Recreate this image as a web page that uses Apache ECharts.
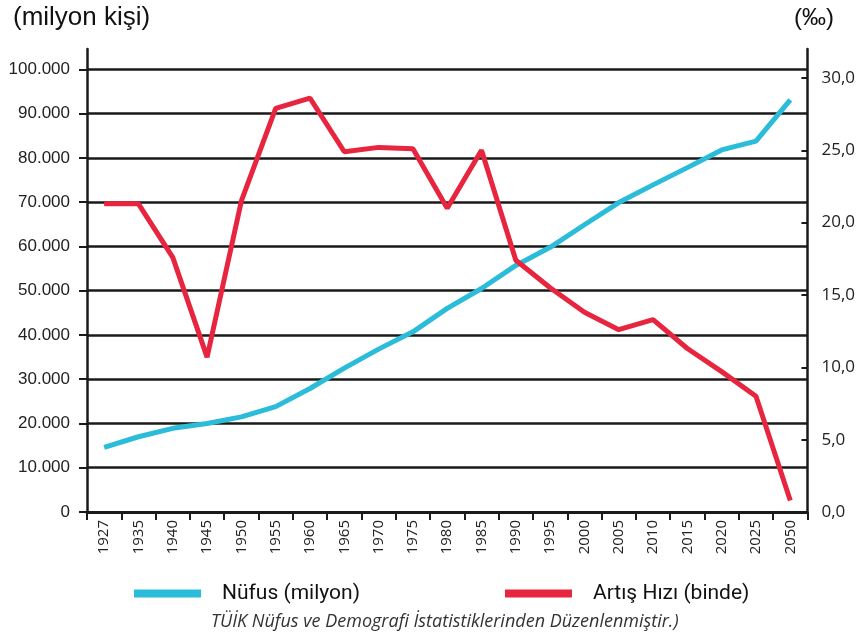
<!DOCTYPE html>
<html>
<head>
<meta charset="utf-8">
<script src="https://cdn.jsdelivr.net/npm/echarts@6/dist/echarts.min.js"></script>
<style>
html,body{margin:0;padding:0;background:#fff;}
#c{width:858px;height:641px;}
</style>
</head>
<body>
<div id="c"></div>
<script>
const years = ['1927','1935','1940','1945','1950','1955','1960','1965','1970','1975','1980','1985','1990','1995','2000','2005','2010','2015','2020','2025','2050'];
const nufus = [14600,17000,18900,20000,21500,23800,27900,32500,36800,40700,46000,50500,55700,59800,64900,69900,73900,77800,81800,83800,93100];
const artisHizi = [21.3,21.3,17.6,10.7,21.5,27.9,28.6,24.9,25.2,25.1,21.0,25.0,17.4,15.5,13.8,12.6,13.3,11.3,9.7,8.0,0.8];
const leftTitle = '(milyon kişi)';
const rightTitle = '(‰)';
const sourceText = 'TÜİK Nüfus ve Demografi İstatistiklerinden Düzenlenmiştir.)';

const chart = echarts.init(document.getElementById('c'), null, {renderer:'canvas'});
const axisColor = '#1a1a1a';
chart.setOption({
  animation:false,
  backgroundColor:'#fff',
  title:[
    {text:leftTitle, left:13, top:5, padding:0, textStyle:{fontFamily:'Liberation Sans, Arial', fontSize:26, fontWeight:'normal', color:'#111'}},
    {text:rightTitle, right:24, top:6, padding:0, textStyle:{fontFamily:'Liberation Sans, Arial', fontSize:24, fontWeight:'normal', color:'#111'}},
    {text:sourceText, left:211, top:613, padding:0, textStyle:{fontFamily:'Open Sans', fontSize:18, fontStyle:'italic', fontWeight:'normal', color:'#333'}}
  ],
  legend:{
    left:129, top:578,
    itemWidth:67, itemHeight:8, itemGap:145, icon:'rect',
    textStyle:{fontFamily:'Roboto', fontSize:21, color:'#111', padding:[0,0,0,16]},
    data:['Nüfus (milyon)','Artış Hızı (binde)']
  },
  grid:{left:87, right:50, top:49, bottom:129, containLabel:false},
  xAxis:{
    type:'category', data:years, boundaryGap:true,
    axisLine:{lineStyle:{color:axisColor, width:3}},
    axisTick:{show:true, interval:0, length:8, lineStyle:{color:axisColor, width:2}},
    axisLabel:{interval:0, rotate:90, margin:8, fontFamily:'Open Sans', fontSize:15, color:'#222'}
  },
  yAxis:[
    {
      type:'value', min:0, max:104600, interval:10000, position:'left',
      axisLine:{show:true, lineStyle:{color:axisColor, width:2.5}},
      axisTick:{show:true, length:8, lineStyle:{color:axisColor, width:2}},
      axisLabel:{showMaxLabel:false, margin:17, fontFamily:'Liberation Sans, Arial', fontSize:17, color:'#222',
        formatter:function(v){return v===0?'0':v.toLocaleString('de-DE');}},
      splitLine:{show:true, showMaxLine:false, lineStyle:{color:axisColor, width:2.5}}
    },
    {
      type:'value', min:0, max:32, interval:5, position:'right',
      axisLine:{show:true, lineStyle:{color:axisColor, width:2.5}},
      axisTick:{show:true, inside:true, length:6, lineStyle:{color:axisColor, width:2}},
      axisLabel:{showMaxLabel:false, margin:14, fontFamily:'Open Sans', fontSize:17, color:'#222',
        formatter:function(v){return v.toFixed(1).replace('.',',');}},
      splitLine:{show:false}
    }
  ],
  series:[
    {name:'Nüfus (milyon)', type:'line', yAxisIndex:0, data:nufus, symbol:'none',
      lineStyle:{color:'#2bbcd9', width:5}, itemStyle:{color:'#2bbcd9'}, z:3},
    {name:'Artış Hızı (binde)', type:'line', yAxisIndex:1, data:artisHizi, symbol:'none',
      lineStyle:{color:'#e8253f', width:5}, itemStyle:{color:'#e8253f'}, z:4}
  ]
});
</script>
</body>
</html>
